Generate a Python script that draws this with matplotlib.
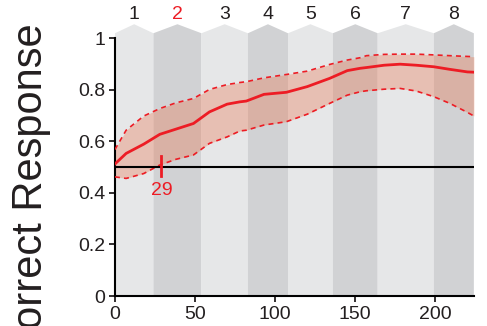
import numpy as np
import matplotlib
matplotlib.use("Agg")
import matplotlib.pyplot as plt

plt.rcParams['font.family'] = ['Liberation Sans', 'DejaVu Sans']

# trial number vs proportion correct
trial = [0, 7, 18, 28, 38, 49, 59, 70, 78, 82, 93, 107, 120, 134, 145, 153,
         157, 168, 178, 188, 199, 209, 220, 224]
mean_resp = [0.512, 0.553, 0.589, 0.627, 0.647, 0.669, 0.714, 0.744, 0.753,
             0.756, 0.782, 0.790, 0.812, 0.844, 0.874, 0.883, 0.886, 0.895,
             0.899, 0.895, 0.889, 0.879, 0.869, 0.868]
upper_ci = [0.568, 0.643, 0.698, 0.727, 0.749, 0.766, 0.801, 0.820, 0.828,
            0.831, 0.846, 0.859, 0.872, 0.898, 0.915, 0.924, 0.932, 0.937,
            0.938, 0.938, 0.935, 0.932, 0.929, 0.928]
lower_ci = [0.462, 0.456, 0.475, 0.508, 0.530, 0.547, 0.592, 0.617, 0.640,
            0.643, 0.663, 0.676, 0.705, 0.747, 0.779, 0.792, 0.796, 0.802,
            0.805, 0.795, 0.773, 0.747, 0.712, 0.698]

# session boundaries and labels
session_edges = [0, 24, 54, 83, 108, 136, 164, 199, 224]
session_labels = ['1', '2', '3', '4', '5', '6', '7', '8']
criterion_trial = 29
chance = 0.5

red = '#ed1c24'
light = '#e6e7e8'
dark = '#d1d2d4'
txt = '#231f20'

fig = plt.figure(figsize=(4.87, 3.26), dpi=100)
ax = fig.add_axes([0.236, 0.092, 0.737, 0.791])

# session bands with pointed tops
for i in range(len(session_labels)):
    x0, x1 = session_edges[i], session_edges[i + 1]
    xm = (x0 + x1) / 2
    col = light if i % 2 == 0 else dark
    ax.fill([x0, x1, x1, xm, x0], [0, 0, 1.019, 1.054, 1.019],
            color=col, lw=0, zorder=0, clip_on=False)
    ax.text(xm, 1.092, session_labels[i], ha='center', va='center',
            fontsize=14, color=red if session_labels[i] == '2' else txt,
            clip_on=False)

ax.fill_between(trial, lower_ci, upper_ci, color='#ec7048', alpha=0.33,
                lw=0, zorder=2)
ax.plot(trial, upper_ci, '--', color=red, lw=1.2, dashes=(3, 2.5), zorder=3)
ax.plot(trial, lower_ci, '--', color=red, lw=1.2, dashes=(3, 2.5), zorder=3)
ax.plot(trial, mean_resp, '-', color=red, lw=2, zorder=4)

ax.axhline(chance, color='black', lw=1.5, zorder=5)
ax.plot([criterion_trial, criterion_trial], [0.465, 0.543], color=red,
        lw=2, zorder=6)
ax.text(criterion_trial, 0.41, str(criterion_trial), color=red,
        ha='center', va='center', fontsize=14)

ax.set_xlim(0, 224)
ax.set_ylim(0, 1)
ax.set_xticks([0, 50, 100, 150, 200])
ax.set_yticks([0, 0.2, 0.4, 0.6, 0.8, 1])
ax.set_yticklabels(['0', '0.2', '0.4', '0.6', '0.8', '1'])
ax.tick_params(labelsize=14, colors=txt, length=4, width=1.3, direction='out',
               pad=3)
for s in ['top', 'right']:
    ax.spines[s].set_visible(False)
for s in ['left', 'bottom']:
    ax.spines[s].set_linewidth(1.5)
    ax.spines[s].set_color('black')
ax.set_facecolor('none')

fig.text(31 / 487, 1 - 23 / 326, 'Correct Response', rotation=90,
         ha='center', va='top', fontsize=30, color=txt)

fig.savefig('out.png', dpi=100)
